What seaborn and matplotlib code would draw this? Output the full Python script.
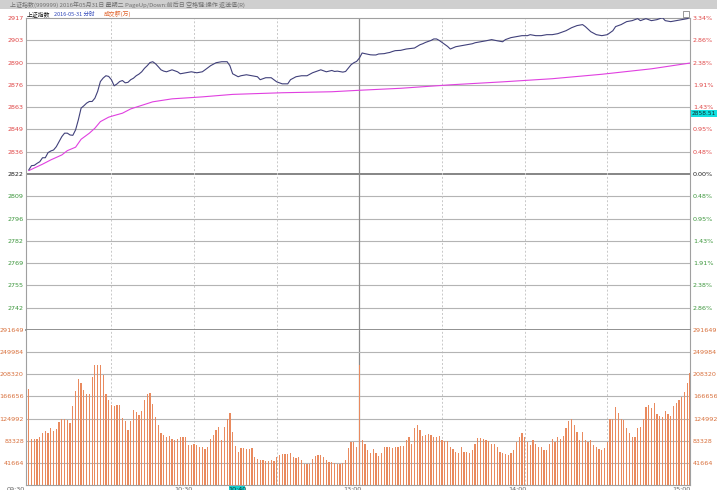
import numpy as np
import pandas as pd
import seaborn as sns
import matplotlib.pyplot as plt
from matplotlib.patches import Rectangle

# 上证指数 分时 2016-05-31, minute 0 = 09:30, 120 = 11:30/13:00, 240 = 15:00
pre_close = 2822.45

price_min = [0, 1, 2, 3, 4, 5, 6, 7, 8, 9, 10, 11, 12, 13, 14, 15, 16, 17, 18, 19,
             20, 21, 22, 23, 24, 25, 26, 27, 28, 29, 30, 31, 32, 33, 34, 35, 36, 37, 38, 39,
             40, 41, 42, 43, 44, 45, 46, 47, 48, 49, 50, 51, 52, 53, 54, 55, 56, 57, 59, 61,
             63, 64, 66, 68, 70, 72, 73, 74, 76, 77, 79, 81, 83, 84, 86, 88, 90, 92, 94, 95,
             97, 99, 101, 103, 104, 106, 108, 110, 111, 112, 114, 115, 116, 117, 118, 119, 120, 121, 122, 124,
             125, 126, 127, 129, 130, 131, 132, 133, 135, 136, 137, 138, 140, 141, 142, 143, 144, 146, 147, 148,
             149, 150, 152, 153, 155, 157, 159, 161, 162, 164, 166, 168, 170, 172, 173, 175, 177, 179, 181, 182,
             184, 186, 188, 190, 192, 193, 195, 197, 199, 201, 202, 204, 206, 208, 210, 212, 213, 215, 217, 219,
             221, 222, 224, 226, 228, 230, 231, 233, 235, 237, 239, 240]
price_val = [2824.9, 2827.5, 2827.7, 2828.9, 2829.9, 2832.3, 2832.3, 2835.4, 2836.4, 2837.0,
             2839.0, 2842.1, 2845.1, 2847.2, 2847.2, 2846.1, 2845.9, 2849.2, 2855.3, 2862.4,
             2863.8, 2865.4, 2866.4, 2866.4, 2868.4, 2872.5, 2878.5, 2880.6, 2882.0, 2881.6,
             2879.6, 2875.9, 2877.0, 2878.5, 2879.1, 2877.7, 2878.0, 2879.6, 2880.5, 2882.0,
             2883.0, 2884.4, 2886.5, 2888.1, 2890.0, 2890.5, 2889.3, 2887.5, 2885.6, 2884.8,
             2884.4, 2885.0, 2885.6, 2885.0, 2884.4, 2883.2, 2883.5, 2883.8, 2884.4, 2883.8,
             2884.4, 2885.6, 2888.1, 2889.9, 2890.5, 2890.5, 2888.1, 2883.2, 2881.4, 2882.0,
             2882.6, 2882.0, 2881.4, 2879.6, 2880.8, 2880.8, 2878.3, 2877.1, 2877.1, 2879.6,
             2881.4, 2882.0, 2882.0, 2883.8, 2884.4, 2885.6, 2884.4, 2885.2, 2884.6, 2884.8,
             2884.2, 2884.6, 2886.7, 2888.7, 2889.9, 2890.7, 2892.7, 2895.8, 2895.4, 2894.7,
             2894.6, 2894.6, 2895.2, 2895.4, 2895.8, 2896.1, 2896.7, 2897.2, 2897.4, 2897.8,
             2898.2, 2898.4, 2898.8, 2899.8, 2900.8, 2901.4, 2902.2, 2903.4, 2904.3, 2904.3,
             2903.4, 2902.2, 2899.8, 2898.2, 2899.6, 2900.2, 2900.8, 2901.4, 2902.0, 2902.6,
             2903.2, 2903.9, 2903.2, 2902.6, 2903.9, 2905.1, 2905.7, 2906.3, 2906.3, 2906.9,
             2906.3, 2906.3, 2906.9, 2906.9, 2907.5, 2908.1, 2909.3, 2911.1, 2912.4, 2913.0,
             2911.8, 2908.7, 2906.9, 2906.3, 2906.9, 2909.3, 2911.8, 2913.0, 2914.8, 2915.4,
             2916.6, 2915.4, 2916.6, 2915.4, 2916.0, 2917.2, 2915.4, 2914.8, 2915.4, 2916.0,
             2916.6, 2917.5]

avg_min = [0, 5, 8, 12, 14, 17, 19, 22, 24, 26, 29, 31, 34, 37, 45, 52, 63, 74, 92, 110,
           120, 135, 153, 172, 190, 208, 226, 240]
avg_val = [2824.5, 2828.4, 2831.0, 2834.0, 2836.6, 2838.7, 2843.5, 2847.2, 2850.2, 2854.2,
           2856.9, 2857.9, 2859.3, 2861.9, 2866.2, 2868.0, 2869.2, 2870.7, 2871.7, 2872.3,
           2873.2, 2874.4, 2876.5, 2878.3, 2880.2, 2882.9, 2886.2, 2889.7]

# 成交额(万), one bar per minute
volume = [180000, 87000, 87000, 86000, 90000, 97000, 101000, 97000, 107000, 101000,
          105000, 118000, 124000, 124000, 123000, 116000, 149000, 177000, 200000, 192000,
          179000, 172000, 172000, 203000, 225000, 225000,
          225000, 207000, 171000, 160000, 150000, 149000, 150000, 150000, 127000, 120000,
          103000, 120000, 142000, 138000, 132000, 139000, 160000, 172000, 174000, 152000,
          128000, 113000, 97000, 94000, 91000, 92000, 86000, 85000, 86000, 90000,
          90000, 90000, 75000, 75000, 77000, 75000, 71000, 71000, 67000, 72000,
          86000, 94000, 103000, 109000, 85000, 109000, 125000, 135000, 100000, 73000,
          63000, 69000, 69000, 68000, 67000, 69000, 52000, 48000, 47000, 47000,
          46000, 46000, 47000, 46000, 52000, 56000, 58000, 58000, 58000, 60000,
          53000, 50000, 53000, 47000, 40000, 40000, 40000, 48000, 55000, 57000,
          56000, 53000, 47000, 44000, 44000, 41000, 40000, 40000, 42000, 47000,
          69000, 80000, 80000, 72000,
          226000, 85000, 77000, 65000, 60000, 67000, 60000, 55000, 61000, 72000,
          72000, 72000, 70000, 72000, 71000, 73000, 73000, 85000, 90000, 77000,
          107000, 112000, 103000, 92000, 95000, 96000, 95000, 90000, 90000, 93000,
          85000, 83000, 83000, 72000, 68000, 63000, 60000, 72000, 62000, 62000,
          61000, 66000, 78000, 88000, 88000, 87000, 85000, 82000, 77000, 78000,
          72000, 62000, 61000, 58000, 56000, 60000, 65000, 81000, 90000, 98000,
          90000, 81000, 76000, 85000, 77000, 71000, 72000, 66000, 66000, 78000,
          87000, 81000, 90000, 86000, 92000, 107000, 121000, 125000, 113000, 100000,
          85000, 100000, 85000, 81000, 85000, 75000, 72000, 68000, 66000, 69000,
          80000, 124000, 124000, 146000, 135000, 124000, 123000, 107000, 98000, 90000,
          91000, 107000, 109000, 124000, 146000, 150000, 144000, 155000, 134000,
          129000, 128000, 140000, 134000, 130000, 149000, 154000, 160000, 165000, 175000,
          191000, 210000]

price_left = ['2917', '2903', '2890', '2876', '2863', '2849', '2836', '2822',
              '2809', '2796', '2782', '2769', '2755', '2742']
pct_right = ['3.34%', '2.86%', '2.38%', '1.91%', '1.43%', '0.95%', '0.48%', '0.00%',
             '0.48%', '0.95%', '1.43%', '1.91%', '2.38%', '2.86%']
vol_ticks = [291649, 249984, 208320, 166656, 124992, 83328, 41664]
time_labels = ['09:30', '10:30', '13:00', '14:00', '15:00']

RED, GREEN, ORANGE = '#e04848', '#3c963c', '#d8703c'
GRID = '#b4b4b4'
NUM_FONT = ['Liberation Sans Narrow', 'DejaVu Sans']
MIX_FONT = ['Liberation Sans Narrow', 'Noto Sans CJK SC']

sns.set_style('white')
plt.rcParams['font.family'] = NUM_FONT

W, H = 717, 490
fig = plt.figure(figsize=(W / 100, H / 100), dpi=100)
fig.patch.set_facecolor('white')


def box(x0, y0, x1, y1):
    return [x0 / W, 1 - y1 / H, (x1 - x0) / W, (y1 - y0) / H]


ax_p = fig.add_axes(box(26, 18, 690, 330))
ax_v = fig.add_axes(box(26, 330, 690, 485), sharex=ax_p)

# price grid
top = 2917.0
step = (top - pre_close) / 7
grid_p = [top - k * step for k in range(15)]
for k, g in enumerate(grid_p[1:-1], start=1):
    if k == 7:
        ax_p.axhline(g, color='#7c7c7c', lw=1.3, zorder=1)
    else:
        ax_p.axhline(g, color=GRID, lw=0.8, zorder=1)
ax_p.set_ylim(grid_p[-1], top)

for ax in (ax_p, ax_v):
    for m in [30, 60, 90, 150, 180, 210]:
        ax.axvline(m, color='#c8c8c8', lw=0.7, ls=(0, (2, 2)), zorder=1)
    ax.axvline(120, color='#8c8c8c', lw=0.9, zorder=1)

sns.lineplot(x=avg_min, y=avg_val, ax=ax_p, color='#e040e0', lw=0.8, zorder=3)
sns.lineplot(x=price_min, y=price_val, ax=ax_p, color='#40407a', lw=0.8, zorder=4)

# volume
for v in vol_ticks[1:]:
    ax_v.axhline(v, color=GRID, lw=0.8, zorder=1)
vdf = pd.DataFrame({'minute': np.arange(len(volume)), 'amount': volume})
sns.barplot(data=vdf, x='minute', y='amount', ax=ax_v, native_scale=True,
            color='#e98a5e', saturation=1, width=0.45, linewidth=0, zorder=2)
ax_v.set_ylim(0, 291649)
ax_p.set_xlim(-1, 240)

for ax in (ax_p, ax_v):
    ax.set_xlabel('')
    ax.set_ylabel('')
    ax.set_xticks([])
    for s in ax.spines.values():
        s.set_color('#a0a0a0')
        s.set_linewidth(0.8)
ax_p.spines['bottom'].set_color('#888888')
ax_p.spines['bottom'].set_linewidth(1.3)
ax_v.spines['top'].set_visible(False)

# left / right labels
pcol = [RED] * 7 + ['#202020'] + [GREEN] * 6
ax_p.set_yticks(grid_p[:-1])
ax_p.set_yticklabels(price_left)
ax_p.tick_params(axis='y', length=0, pad=1.5, labelsize=4.6)
for t, c in zip(ax_p.get_yticklabels(), pcol):
    t.set_color(c)
axr = ax_p.twinx()
axr.set_ylim(ax_p.get_ylim())
axr.set_yticks(grid_p[:-1])
axr.set_yticklabels(pct_right)
axr.tick_params(axis='y', length=0, pad=2, labelsize=4.6)
for t, c in zip(axr.get_yticklabels(), pcol):
    t.set_color(c)
for s in axr.spines.values():
    s.set_visible(False)

ax_v.set_yticks(vol_ticks)
ax_v.set_yticklabels([str(v) for v in vol_ticks])
ax_v.tick_params(axis='y', length=0, pad=1.5, labelsize=4.6, colors=ORANGE)
axvr = ax_v.twinx()
axvr.set_ylim(ax_v.get_ylim())
axvr.set_yticks(vol_ticks)
axvr.set_yticklabels([str(v) for v in vol_ticks])
axvr.tick_params(axis='y', length=0, pad=2, labelsize=4.6, colors=ORANGE)
for s in axvr.spines.values():
    s.set_visible(False)

# window title bar
fig.patches.append(Rectangle((0, 1 - 9.5 / H), 1, 9.5 / H, transform=fig.transFigure,
                             facecolor='#cfcfcf', edgecolor='none', zorder=0))
fig.text(10 / W, 1 - 4.5 / H, '上证指数(999999) 2016年05月31日 星期二 PageUp/Down:前后日 空格键:操作 返送值(R)',
         family=MIX_FONT, fontsize=4.3, color='#707070', va='center', ha='left')

# header
hy = 1 - 14 / H
fig.text(27 / W, hy, '上证指数', family=MIX_FONT, fontsize=4.2, color='#101010', va='center')
fig.text(54 / W, hy, '2016-05-31 分时', family=MIX_FONT, fontsize=4.0, color='#2c44b8', va='center')
fig.text(104 / W, hy, '成交额(万)', family=MIX_FONT, fontsize=4.2, color='#e06028', va='center')
fig.patches.append(Rectangle((683 / W, 1 - 17 / H), 6 / W, 6 / H, transform=fig.transFigure,
                             facecolor='white', edgecolor='#707070', lw=0.5, zorder=5))

# cursor value box, just under the 1.43% label
fig.patches.append(Rectangle((690.5 / W, 1 - 117 / H), 26.5 / W, 6.5 / H, transform=fig.transFigure,
                             facecolor='#12e0e0', edgecolor='none', zorder=5))
fig.text(692 / W, 1 - 113.8 / H, '2858.51', fontsize=4.2, color='#103030', va='center', zorder=6)

# time axis (cut off at the bottom)
tx = [25, 192, 361, 526, 690]
for x, lab in zip(tx, time_labels):
    fig.text(x / W, 1 - 486.5 / H, lab, fontsize=4.6, color='#606060', ha='right', va='top')
fig.patches.append(Rectangle((229 / W, 0), 16 / W, 4 / H, transform=fig.transFigure,
                             facecolor='#12d0d0', edgecolor='none', zorder=5))
fig.text(237 / W, 1 - 486.5 / H, '10:40', fontsize=4.6, color='#103030', ha='center', va='top', zorder=6)

fig.savefig('out.png', dpi=100)
